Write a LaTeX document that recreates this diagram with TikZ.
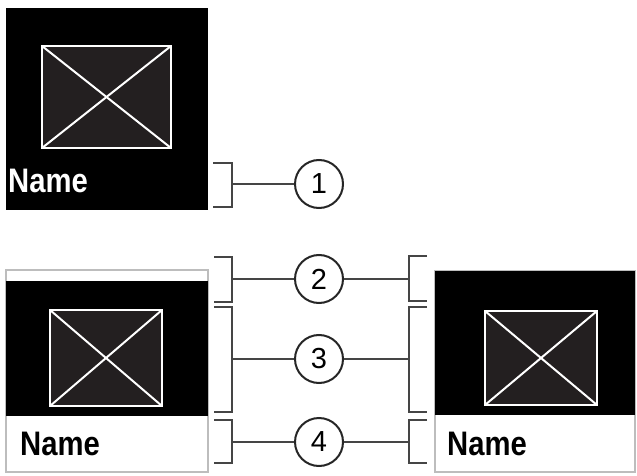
\documentclass[tikz,border=0pt]{standalone}
\usepackage{graphicx}
\usepackage{fontspec}
\setmainfont{Liberation Sans}
\definecolor{imgfill}{HTML}{231F20}
\definecolor{brk}{HTML}{454545}
\definecolor{tileedge}{HTML}{BDBDBD}
\tikzset{
  tile/.style={fill=black,draw=none},
  imgbox/.style={fill=imgfill,draw=white,line width=2pt},
  cross/.style={draw=white,line width=2pt},
  bracket/.style={draw=brk,line width=2.2pt},
  lead/.style={draw=brk,line width=2pt},
  num/.style={circle,draw=black!85,line width=2pt,minimum size=48pt,inner sep=0pt,font=\fontsize{29}{29}\selectfont},
  lbl/.style={font=\fontsize{34}{34}\selectfont\bfseries,inner sep=0pt,anchor=base west},
  frame/.style={fill=white,draw=tileedge,line width=1.2pt}
}
\newcommand{\nm}{\scalebox{0.86}[1]{Name}}
\begin{document}
\begin{tikzpicture}[x=1pt,y=-1pt]
\useasboundingbox (0,0) rectangle (637,476);
% top tile
\fill[tile] (6,8) rectangle (208,210);
\draw[imgbox] (42,46) rectangle (171,148);
\draw[cross] (42,46) -- (171,148) (42,148) -- (171,46);
\node[lbl,text=white] (name1) at (8,192) {\nm};
% bottom left tile
\draw[frame] (6,270) rectangle (208,472);
\fill[tile] (6,281) rectangle (208,416);
\draw[imgbox] (50,310) rectangle (162,406);
\draw[cross] (50,310) -- (162,406) (50,406) -- (162,310);
\node[lbl,text=black] (name2) at (20,455) {\nm};
% right tile
\draw[frame] (435,271) rectangle (635,472);
\fill[tile] (435,271) rectangle (635,415);
\draw[imgbox] (485,311) rectangle (597,405);
\draw[cross] (485,311) -- (597,405) (485,405) -- (597,311);
\node[lbl,text=black] (name3) at (447,455) {\nm};
% circles
\node[num] (c1) at (319,184) {1};
\node[num] (c2) at (319,279) {2};
\node[num] (c3) at (319,359) {3};
\node[num] (c4) at (319,442) {4};
% left brackets
\draw[bracket] (213,163) -- (232,163) -- (232,207) -- (213,207);
\draw[bracket] (214,257) -- (232,257) -- (232,302) -- (214,302);
\draw[bracket] (214,307) -- (232,307) -- (232,412) -- (214,412);
\draw[bracket] (214,420) -- (232,420) -- (232,463) -- (214,463);
\coordinate (l1) at (232,184);
\coordinate (l2) at (232,279);
\coordinate (l3) at (232,359);
\coordinate (l4) at (232,442);
% right brackets
\draw[bracket] (427,256) -- (409,256) -- (409,301) -- (427,301);
\draw[bracket] (427,307) -- (409,307) -- (409,412) -- (427,412);
\draw[bracket] (427,420) -- (409,420) -- (409,463) -- (427,463);
\coordinate (r2) at (409,279);
\coordinate (r3) at (409,359);
\coordinate (r4) at (409,442);
% leads
\draw[lead] (l1) -- (c1);
\draw[lead] (l2) -- (c2);
\draw[lead] (l3) -- (c3);
\draw[lead] (l4) -- (c4);
\draw[lead] (c2) -- (r2);
\draw[lead] (c3) -- (r3);
\draw[lead] (c4) -- (r4);
\end{tikzpicture}
\end{document}
